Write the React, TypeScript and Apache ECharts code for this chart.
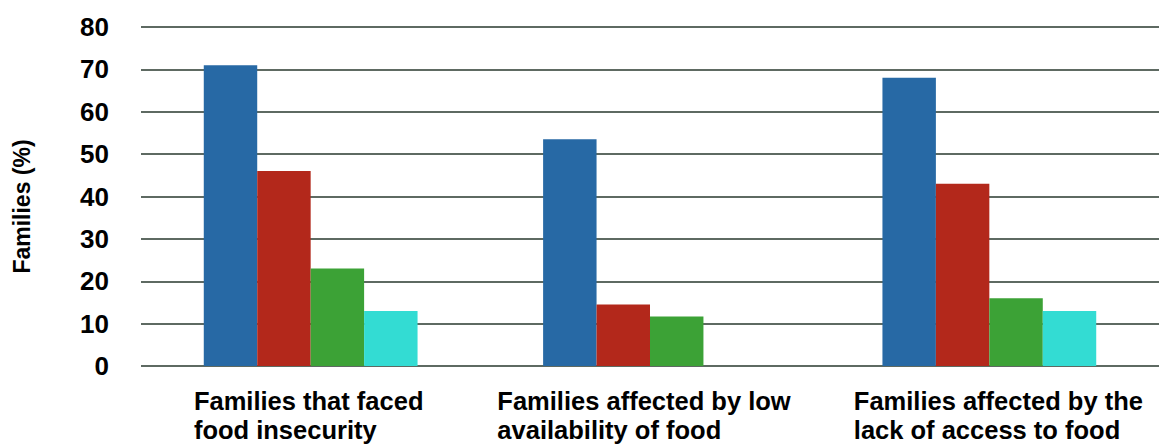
import React, { useEffect, useRef } from "react";
import * as echarts from "echarts";

const categories = [
  "Families that faced\nfood insecurity",
  "Families affected by low\navailability of food",
  "Families affected by the\nlack of access to food",
];
const seriesA = [71, 53.5, 68];
const seriesB = [46, 14.5, 43];
const seriesC = [23, 11.7, 16];
const seriesD: (number | null)[] = [13, null, 13];
const colors = ["#2769a5", "#b3281b", "#3ca236", "#33dcd3"];
const yTicks = { min: 0, max: 80, interval: 10 };
// horizontal nudges of the category labels (px, + = right)
const labelShift = [-2, -6, 9];

export default function App() {
  const ref = useRef<HTMLDivElement>(null);
  useEffect(() => {
    if (!ref.current) return;
    const chart = echarts.init(ref.current, null, { renderer: "svg" });
    const font = "'Liberation Sans', Arial, Helvetica, sans-serif";
    const mk = (name: string, data: (number | null)[], color: string) => ({
      name,
      type: "bar",
      data,
      barGap: "0%",
      barCategoryGap: "37%",
      itemStyle: { color },
    });
    chart.setOption({
      animation: false,
      grid: { left: 141, right: 0, top: 27, bottom: 80, containLabel: false },
      xAxis: {
        type: "category",
        data: categories.map((c, i) => ({
          value: c,
          textStyle: {
            padding:
              labelShift[i] >= 0
                ? [0, 0, 0, labelShift[i] * 2]
                : [0, -labelShift[i] * 2, 0, 0],
          },
        })),
        axisLine: { show: false },
        axisTick: { show: false },
        axisLabel: {
          margin: 21,
          interval: 0,
          formatter: (v: string) =>
            v.split("\n").map((l) => `{a|${l}}`).join("\n"),
          rich: {
            a: {
              align: "left",
              fontFamily: font,
              fontWeight: "bold",
              fontSize: 25.5,
              lineHeight: 28.5,
              color: "#000",
            },
          },
        },
      },
      yAxis: {
        type: "value",
        min: yTicks.min,
        max: yTicks.max,
        interval: yTicks.interval,
        name: "Families (%)",
        nameLocation: "middle",
        nameGap: 108,
        nameTextStyle: {
          fontFamily: font,
          fontWeight: "bold",
          fontSize: 23,
          color: "#000",
          padding: [0, 20, 0, 0],
        },
        axisLine: { show: false },
        axisTick: { show: false },
        axisLabel: {
          margin: 32,
          fontFamily: font,
          fontWeight: "bold",
          fontSize: 26,
          color: "#000",
        },
        splitLine: { lineStyle: { color: "#5e6a62", width: 2 } },
      },
      series: [
        mk("A", seriesA, colors[0]),
        mk("B", seriesB, colors[1]),
        mk("C", seriesC, colors[2]),
        mk("D", seriesD, colors[3]),
      ],
    });
    return () => chart.dispose();
  }, []);
  return (
    <div
      ref={ref}
      style={{ position: "fixed", left: 0, top: 0, width: 1159, height: 446, background: "#fff" }}
    />
  );
}
